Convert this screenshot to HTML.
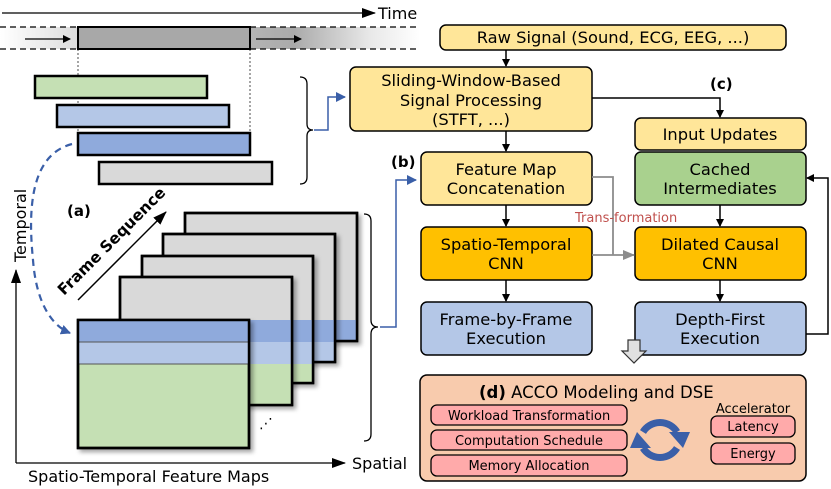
<!DOCTYPE html>
<html><head><style>
body{margin:0;background:#fff}
svg{display:block;font-family:"DejaVu Sans","Liberation Sans",sans-serif}
</style></head><body>
<svg width="831" height="489" viewBox="0 0 831 489" xmlns="http://www.w3.org/2000/svg">
<defs>
<marker id="ab" markerWidth="8" markerHeight="8" refX="7" refY="4" orient="auto" markerUnits="userSpaceOnUse"><path d="M0,0 L8,4 L0,8 z" fill="#000"/></marker>
<marker id="abl" markerWidth="10" markerHeight="10" refX="9" refY="5" orient="auto" markerUnits="userSpaceOnUse"><path d="M0,0 L10,5 L0,10 z" fill="#3a5fa8"/></marker>
<marker id="ag" markerWidth="12" markerHeight="10" refX="11" refY="5" orient="auto" markerUnits="userSpaceOnUse"><path d="M0,0 L12,5 L0,10 z" fill="#8c8c8c"/></marker>
<marker id="abig" markerWidth="14" markerHeight="10" refX="13" refY="5" orient="auto" markerUnits="userSpaceOnUse"><path d="M0,0 L14,5 L0,10 z" fill="#000"/></marker>
<linearGradient id="band" x1="0" x2="1" y1="0" y2="0">
<stop offset="0" stop-color="#fff"/><stop offset="0.18" stop-color="#ddd"/><stop offset="0.7" stop-color="#aaa"/><stop offset="0.88" stop-color="#e8e8e8"/><stop offset="1" stop-color="#fff"/></linearGradient>
<filter id="sh" x="-10%" y="-10%" width="130%" height="130%"><feDropShadow dx="3" dy="3" stdDeviation="2" flood-color="#000" flood-opacity="0.35"/></filter>
</defs>

<line x1="2" y1="13" x2="375" y2="13" stroke="#000" stroke-width="1.3" marker-end="url(#abig)"/>
<text x="378" y="19" font-size="16">Time</text>
<rect x="0" y="27" width="420" height="22" fill="url(#band)"/>
<line x1="0" y1="27" x2="420" y2="27" stroke="#000" stroke-dasharray="6,4" stroke-width="1.2"/>
<line x1="0" y1="49" x2="420" y2="49" stroke="#000" stroke-dasharray="6,4" stroke-width="1.2"/>
<rect x="78" y="27" width="172" height="22" fill="#a8a8a8" stroke="#000" stroke-width="2"/>
<line x1="25" y1="39" x2="70" y2="39" stroke="#000" stroke-width="1.3" marker-end="url(#ab)"/>
<line x1="256" y1="39" x2="301" y2="39" stroke="#000" stroke-width="1.3" marker-end="url(#ab)"/>
<line x1="78" y1="49" x2="78" y2="133" stroke="#000" stroke-width="0.7" stroke-dasharray="2,2"/>
<line x1="250" y1="49" x2="250" y2="133" stroke="#000" stroke-width="0.7" stroke-dasharray="2,2"/>

<g stroke="#000" stroke-width="2.5">
<rect x="35" y="76" width="172" height="22" fill="#c5e0b4"/>
<rect x="57" y="105" width="172" height="22" fill="#b4c7e7"/>
<rect x="78" y="133" width="172" height="22" fill="#8faadc"/>
<rect x="99" y="162" width="173" height="22" fill="#d9d9d9"/>
</g>
<path d="M300,77 Q307,77 307,84 L307,124 Q307,130 313,130 Q307,130 307,136 L307,177 Q307,184 300,184" fill="none" stroke="#000" stroke-width="1.3"/>
<path d="M314,130 L328,130 L328,97 L345,97" fill="none" stroke="#3a5fa8" stroke-width="1.5" marker-end="url(#abl)"/>

<text x="67" y="216" font-size="15" font-weight="bold">(a)</text>
<path d="M72,144 C30,155 28,210 33,260 C36,300 50,325 70,333" fill="none" stroke="#3a5fa8" stroke-width="2.2" stroke-dasharray="7,5" marker-end="url(#abl)"/>

<line x1="16" y1="463" x2="16" y2="270" stroke="#000" stroke-width="1.3" marker-end="url(#abig)"/>
<line x1="16" y1="463" x2="345" y2="463" stroke="#000" stroke-width="1.3" marker-end="url(#abig)"/>
<text transform="translate(26,262) rotate(-90)" font-size="16">Temporal</text>
<text x="352" y="469" font-size="16">Spatial</text>
<text x="28" y="482" font-size="16">Spatio-Temporal Feature Maps</text>

<line x1="78" y1="300" x2="166" y2="212" stroke="#000" stroke-width="1.5" marker-end="url(#abig)"/>
<text transform="translate(64,296) rotate(-45)" font-size="15.5" font-weight="bold">Frame Sequence</text>

<g filter="url(#sh)"><rect x="185" y="213" width="172" height="128" fill="#d9d9d9" stroke="#000" stroke-width="2.5"/></g>
<rect x="186" y="320" width="170" height="20" fill="#8faadc"/>
<rect x="185" y="213" width="172" height="128" fill="none" stroke="#000" stroke-width="2.5"/>

<g filter="url(#sh)"><rect x="163" y="234" width="172" height="128" fill="#d9d9d9" stroke="#000" stroke-width="2.5"/></g>
<rect x="164" y="320" width="170" height="22" fill="#8faadc"/><rect x="164" y="342" width="170" height="19" fill="#b4c7e7"/>
<rect x="163" y="234" width="172" height="128" fill="none" stroke="#000" stroke-width="2.5"/>

<g filter="url(#sh)"><rect x="142" y="256" width="171" height="127" fill="#d9d9d9" stroke="#000" stroke-width="2.5"/></g>
<rect x="143" y="320" width="169" height="22" fill="#8faadc"/><rect x="143" y="342" width="169" height="22" fill="#b4c7e7"/><rect x="143" y="364" width="169" height="18" fill="#c5e0b4"/>
<rect x="142" y="256" width="171" height="127" fill="none" stroke="#000" stroke-width="2.5"/>

<g filter="url(#sh)"><rect x="120" y="277" width="172" height="128" fill="#d9d9d9" stroke="#000" stroke-width="2.5"/></g>
<rect x="121" y="320" width="170" height="22" fill="#8faadc"/><rect x="121" y="342" width="170" height="22" fill="#b4c7e7"/><rect x="121" y="364" width="170" height="40" fill="#c5e0b4"/>
<rect x="120" y="277" width="172" height="128" fill="none" stroke="#000" stroke-width="2.5"/>

<g filter="url(#sh)"><rect x="78" y="320" width="171" height="128" fill="#c5e0b4" stroke="#000" stroke-width="2.5"/></g>
<rect x="79" y="321" width="169" height="21" fill="#8faadc"/><rect x="79" y="342" width="169" height="22" fill="#b4c7e7"/>
<line x1="79" y1="342" x2="248" y2="342" stroke="#555" stroke-width="1"/>
<line x1="79" y1="364" x2="248" y2="364" stroke="#555" stroke-width="1"/>
<rect x="78" y="320" width="171" height="128" fill="none" stroke="#000" stroke-width="2.5"/>
<text x="259" y="428" font-size="14">⋰</text>

<path d="M364,214 Q371,214 371,221 L371,320 Q371,327 378,327 Q371,327 371,334 L371,434 Q371,441 364,441" fill="none" stroke="#000" stroke-width="1.3"/>
<path d="M380,327 L396,327 L396,180 L416,180" fill="none" stroke="#3a5fa8" stroke-width="1.5" marker-end="url(#abl)"/>
<text x="391" y="167" font-size="15" font-weight="bold">(b)</text>

<g stroke="#000" stroke-width="1.5">
<rect x="440" y="25" width="346" height="25" rx="6" fill="#ffe699"/>
<rect x="350" y="67" width="242" height="64" rx="6" fill="#ffe699"/>
<rect x="635" y="118" width="171" height="32" rx="6" fill="#ffe699"/>
<rect x="635" y="152" width="171" height="53" rx="6" fill="#a9d18e"/>
<rect x="421" y="152" width="171" height="53" rx="6" fill="#ffe699"/>
<rect x="421" y="227" width="171" height="53" rx="6" fill="#ffc000"/>
<rect x="635" y="227" width="171" height="53" rx="6" fill="#ffc000"/>
<rect x="421" y="302" width="171" height="53" rx="6" fill="#b4c7e7"/>
<rect x="635" y="302" width="171" height="53" rx="6" fill="#b4c7e7"/>
</g>
<g font-size="16.3" text-anchor="middle">
<text x="613" y="43">Raw Signal (Sound, ECG, EEG, ...)</text>
<text x="471" y="86">Sliding-Window-Based</text>
<text x="471" y="106">Signal Processing</text>
<text x="471" y="125">(STFT, ...)</text>
<text x="720" y="140">Input Updates</text>
<text x="720" y="175">Cached</text>
<text x="720" y="194">Intermediates</text>
<text x="506" y="175">Feature Map</text>
<text x="506" y="194">Concatenation</text>
<text x="506" y="250">Spatio-Temporal</text>
<text x="506" y="269">CNN</text>
<text x="720" y="250">Dilated Causal</text>
<text x="720" y="269">CNN</text>
<text x="506" y="325">Frame-by-Frame</text>
<text x="506" y="344">Execution</text>
<text x="720" y="325">Depth-First</text>
<text x="720" y="344">Execution</text>
</g>
<g stroke="#000" stroke-width="1.5" fill="none">
<line x1="506" y1="50" x2="506" y2="66" marker-end="url(#ab)"/>
<line x1="506" y1="131" x2="506" y2="151" marker-end="url(#ab)"/>
<line x1="506" y1="205" x2="506" y2="226" marker-end="url(#ab)"/>
<line x1="506" y1="280" x2="506" y2="301" marker-end="url(#ab)"/>
<line x1="720" y1="205" x2="720" y2="226" marker-end="url(#ab)"/>
<line x1="720" y1="280" x2="720" y2="301" marker-end="url(#ab)"/>
<path d="M592,98 L720,98 L720,117" marker-end="url(#ab)"/>
<path d="M806,334 L828,334 L828,178 L807,178" marker-end="url(#ab)"/>
</g>
<text x="710" y="89" font-size="15" font-weight="bold">(c)</text>
<g stroke="#8c8c8c" stroke-width="1.8" fill="none">
<path d="M592,177 L613,177 L613,255"/>
<line x1="592" y1="255" x2="634" y2="255" marker-end="url(#ag)"/>
</g>
<text x="575" y="222" font-size="13" fill="#c0504d">Trans-formation</text>

<path d="M628,340 L640,340 L640,351 L646,351 L634,363 L622,351 L628,351 Z" fill="#e0e0e0" stroke="#333" stroke-width="1.2"/>

<rect x="420" y="375" width="386" height="106" rx="7" fill="#f8cbad" stroke="#000" stroke-width="1.5"/>
<text x="479" y="398" font-size="16.5"><tspan font-weight="bold">(d)</tspan> ACCO Modeling and DSE</text>
<g stroke="#000" stroke-width="1.3" fill="#ffaaaa">
<rect x="431" y="405" width="196" height="20" rx="6"/>
<rect x="431" y="430" width="196" height="20" rx="6"/>
<rect x="431" y="455" width="196" height="21" rx="6"/>
<rect x="711" y="416" width="84" height="21" rx="6"/>
<rect x="711" y="443" width="84" height="21" rx="6"/>
</g>
<g font-size="13" text-anchor="middle">
<text x="529" y="420">Workload Transformation</text>
<text x="529" y="445">Computation Schedule</text>
<text x="529" y="470">Memory Allocation</text>
<text x="753" y="431">Latency</text>
<text x="753" y="458">Energy</text>
<text x="753" y="413">Accelerator</text>
</g>
<g fill="none" stroke="#3a5fa8" stroke-width="7">
<path d="M643,432 A20,20 0 0 1 677,432"/>
<path d="M677,448 A20,20 0 0 1 643,448"/>
</g>
<path d="M669,432 L690,432 L683,448 Z" fill="#3a5fa8"/>
<path d="M630,448 L651,448 L637,432 Z" fill="#3a5fa8"/>
</svg>
</body></html>
